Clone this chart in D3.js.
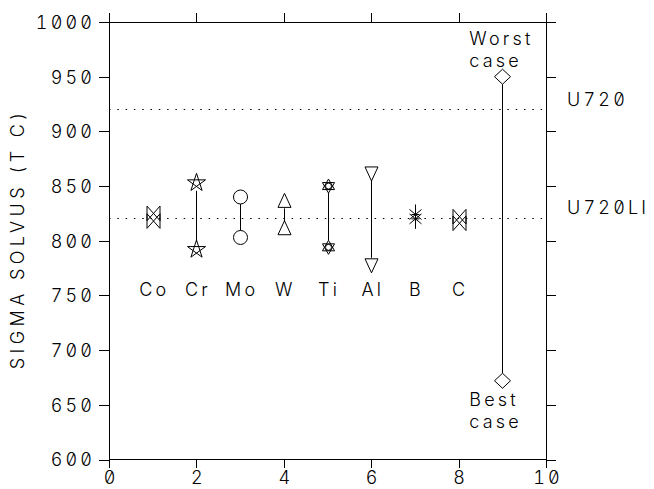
<!DOCTYPE html>
<html>
<head>
<meta charset="utf-8">
<script src="https://cdn.jsdelivr.net/npm/d3@7"></script>
<style>
  html, body { margin: 0; padding: 0; background: #fff; }
  svg text {
    font-family: Inter, "DejaVu Sans", sans-serif; font-size: 18px; font-weight: 300;
    font-feature-settings: "zero" 1, "tnum" 1; letter-spacing: 3.2px; fill: #000;
  }
  svg text.title { letter-spacing: 4.4px; }
</style>
</head>
<body>
<svg id="chart" width="654" height="489"></svg>
<script>
// Alloying elements and the range of sigma solvus each one produces
const elements = ["Co", "Cr", "Mo", "W", "Ti", "Al", "B", "C"];
const elementX = [1, 2, 3, 4, 5, 6, 7, 8];
const solvusLow  = [818, 792, 803, 811, 794, 778, 820, 816];
const solvusHigh = [825, 853, 840, 836, 850, 862, 824, 822];

// Overall composition envelope
const envelopeX = 9;
const worstCase = 950;
const bestCase = 672;

// Reference alloys (dotted lines)
const refNames = ["U720", "U720LI"];
const refValues = [920, 821];

// Axis ticks
const xTicks = [0, 2, 4, 6, 8, 10];
const yTicks = [600, 650, 700, 750, 800, 850, 900, 950, 1000];

const svg = d3.select("#chart");
const plotL = 109, plotR = 546, plotT = 22, plotB = 459.5;

const x = d3.scaleLinear().domain([0, 10]).range([plotL, plotR]);
const y = d3.scaleLinear().domain([600, 1000]).range([plotB, plotT]);

// Frame with outward ticks on every side
const frame = svg.append("g").attr("stroke", "#000").attr("stroke-width", 1)
  .attr("shape-rendering", "crispEdges").attr("fill", "none");
frame.append("rect").attr("x", plotL).attr("y", plotT)
  .attr("width", plotR - plotL).attr("height", plotB - plotT);

const axL = d3.axisLeft(y).tickValues(yTicks).tickSize(10).tickPadding(7)
  .tickFormat(d3.format("d"));
const axR = d3.axisRight(y).tickValues(yTicks).tickSize(10).tickFormat("");
const axB = d3.axisBottom(x).tickValues(xTicks).tickSize(8).tickPadding(4)
  .tickFormat(d3.format("d"));
const axT = d3.axisTop(x).tickValues(xTicks).tickSize(9).tickFormat("");

function styleAxis(g) {
  g.select(".domain").remove();
  g.selectAll(".tick line").attr("stroke", "#000").attr("shape-rendering", "crispEdges");
  g.selectAll(".tick text").attr("font-family", null).attr("font-size", null).attr("fill", "#000");
}
svg.append("g").attr("transform", `translate(${plotL},0)`).call(axL).call(styleAxis)
  .selectAll(".tick text").attr("dy", "0.36em").attr("dx", "3.2px");
svg.append("g").attr("transform", `translate(${plotR},0)`).call(axR).call(styleAxis);
svg.append("g").attr("transform", `translate(0,${plotB})`).call(axB).call(styleAxis)
  .selectAll(".tick text").attr("dy", "0.71em").attr("dx", "1.6px");
svg.append("g").attr("transform", `translate(0,${plotT})`).call(axT).call(styleAxis);

// Y axis title
svg.append("text").attr("class", "title")
  .attr("transform", `translate(24,${(plotT + plotB) / 2 - 2}) rotate(-90)`)
  .attr("text-anchor", "middle")
  .text("SIGMA SOLVUS (T C)");

// Reference alloy lines
refValues.forEach((v, i) => {
  svg.append("line")
    .attr("x1", plotL).attr("x2", plotR)
    .attr("y1", Math.round(y(v)) + 0.5).attr("y2", Math.round(y(v)) + 0.5)
    .attr("stroke", "#000").attr("stroke-width", 1)
    .attr("stroke-dasharray", "1.5,6.8");
  svg.append("text")
    .attr("x", plotR + 21).attr("y", y(v) - 4)
    .text(refNames[i]);
});

// Marker shapes, centred on the data point
function poly(pts) { return "M" + pts.map(p => p.join(",")).join("L") + "Z"; }
function starPath(r) {
  const pts = d3.range(5).map(k => {
    const a = -Math.PI / 2 + k * 2 * Math.PI / 5;
    return [r * Math.cos(a), r * Math.sin(a)];
  });
  return poly([0, 2, 4, 1, 3].map(k => pts[k]));
}
function hexPath(r) {
  const tri = off => d3.range(3).map(k => {
    const a = -Math.PI / 2 + off + k * 2 * Math.PI / 3;
    return [r * Math.cos(a), r * Math.sin(a)];
  });
  return poly(tri(0)) + poly(tri(Math.PI / 3)) +
    "M3,0A3,3 0 1,1 -3,0A3,3 0 1,1 3,0Z";
}
const markers = {
  Co: { d: "M-6.5,-7.3L6.5,7.3L6.5,-7.3L-6.5,7.3Z", r: 7.3 },
  Cr: { d: starPath(9.5), r: 8 },
  Mo: { d: "M7,0A7,7 0 1,1 -7,0A7,7 0 1,1 7,0Z", r: 7 },
  W:  { d: "M0,-8L6.5,6L-6.5,6Z", r: 7 },
  Ti: { d: hexPath(7), r: 7 },
  Al: { d: "M0,8L-6.5,-6L6.5,-6Z", r: 7 },
  B:  { d: "M0,-10L0,10M-6,-5L6,5M-6,5L6,-5M-4,0L4,0", r: 10 },
  C:  { d: "M-6.5,-7.3L6.5,7.3L6.5,-7.3L-6.5,7.3Z", r: 7.3 }
};

const g = svg.append("g").attr("stroke", "#000").attr("stroke-width", 1).attr("fill", "none");

elements.forEach((el, i) => {
  const cx = Math.round(x(elementX[i])) + 0.5;
  const yHi = y(solvusHigh[i]), yLo = y(solvusLow[i]);
  const m = markers[el];
  if (yLo - yHi > 2 * m.r) {
    g.append("line").attr("x1", cx).attr("x2", cx)
      .attr("y1", yHi + m.r).attr("y2", yLo - m.r);
  }
  [yHi, yLo].forEach(py => {
    g.append("path").attr("d", m.d).attr("transform", `translate(${cx},${py})`);
  });
  svg.append("text")
    .attr("x", x(elementX[i]) + 1.6).attr("y", y(750) + 1)
    .attr("text-anchor", "middle")
    .text(el);
});

// Worst / best case envelope
const ex = Math.round(x(envelopeX)) + 0.5;
const dia = "M0,-7.5L8,0L0,7.5L-8,0Z";
g.append("line").attr("x1", ex).attr("x2", ex)
  .attr("y1", y(worstCase) + 7.5).attr("y2", y(bestCase) - 7.5);
[worstCase, bestCase].forEach(v => {
  g.append("path").attr("d", dia).attr("transform", `translate(${ex},${y(v)})`);
});
const labX = x(envelopeX) - 33;
svg.append("text").attr("x", labX).attr("y", y(worstCase) - 32).text("Worst");
svg.append("text").attr("x", labX).attr("y", y(worstCase) - 10).text("case");
svg.append("text").attr("x", labX).attr("y", y(bestCase) + 25).text("Best");
svg.append("text").attr("x", labX).attr("y", y(bestCase) + 47).text("case");
</script>
</body>
</html>
